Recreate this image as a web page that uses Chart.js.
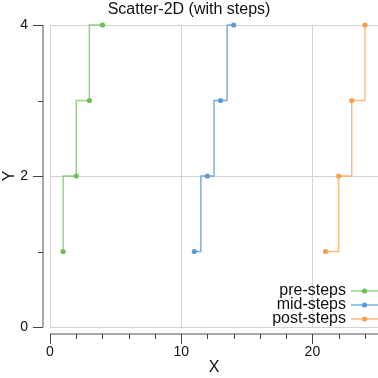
<!DOCTYPE html>
<html>
<head>
<meta charset="utf-8">
<script src="https://cdn.jsdelivr.net/npm/chart.js@4/dist/chart.umd.min.js"></script>
<style>
  html, body { margin: 0; padding: 0; background: #fff; }
  canvas { display: block; }
</style>
</head>
<body>
<canvas id="chart" width="378" height="378"></canvas>
<script>
// data
const seriesNames = ['pre-steps', 'mid-steps', 'post-steps'];
// chart.js names: 'after' = vertical first, 'before' = horizontal first
const stepModes = ['after', 'middle', 'before'];
const preX = [1, 2, 3, 4];
const preY = [1, 2, 3, 4];
const midX = [11, 12, 13, 14];
const midY = [1, 2, 3, 4];
const postX = [21, 22, 23, 24];
const postY = [1, 2, 3, 4];

const xTicks = [0, 2, 4, 6, 8, 10, 12, 14, 16, 18, 20, 22, 24];
const xLabels = [0, 10, 20];
const yTicks = [0, 1, 2, 3, 4];
const yLabels = [0, 2, 4];

const pointColors = ['#6abf58', '#5a9bd8', '#fd9e4c'];
const lineColors = ['rgba(106,191,88,0.7)', 'rgba(90,155,216,0.8)', 'rgba(253,158,76,0.7)'];

const FONT = '"Liberation Sans", Arial, sans-serif';
const GRID = '#d4d4d4';

function toPoints(xs, ys) {
  return xs.map((x, i) => ({ x: x, y: ys[i] }));
}

const seriesData = [toPoints(preX, preY), toPoints(midX, midY), toPoints(postX, postY)];

const datasets = seriesNames.map((name, i) => ({
  label: name,
  data: seriesData[i],
  showLine: true,
  stepped: stepModes[i],
  borderColor: lineColors[i],
  borderWidth: 1.5,
  backgroundColor: pointColors[i],
  pointBackgroundColor: pointColors[i],
  pointBorderWidth: 0,
  pointRadius: 2.6,
  clip: false
}));

// axis lines + ticks drawn a few px away from the plot box
const offsetAxes = {
  id: 'offsetAxes',
  afterDraw(chart) {
    const { ctx, chartArea: a, scales: { x, y } } = chart;
    const gap = 7;
    ctx.save();
    ctx.strokeStyle = '#8a8a8a';
    ctx.lineWidth = 1.5;
    ctx.beginPath();
    ctx.moveTo(a.left, a.bottom + gap);
    ctx.lineTo(a.right, a.bottom + gap);
    ctx.moveTo(a.left - gap, a.top);
    ctx.lineTo(a.left - gap, a.bottom);
    ctx.stroke();

    ctx.strokeStyle = '#444';
    ctx.lineWidth = 1;
    ctx.beginPath();
    x.ticks.forEach(t => {
      const px = Math.round(x.getPixelForValue(t.value)) + 0.5;
      const len = xLabels.includes(t.value) ? 10 : 5;
      ctx.moveTo(px, a.bottom + gap);
      ctx.lineTo(px, a.bottom + gap + len);
    });
    y.ticks.forEach(t => {
      const py = Math.round(y.getPixelForValue(t.value)) + 0.5;
      const len = yLabels.includes(t.value) ? 10 : 5;
      ctx.moveTo(a.left - gap, py);
      ctx.lineTo(a.left - gap - len, py);
    });
    ctx.stroke();
    ctx.restore();
  }
};

// legend in the lower right corner, label left of the symbol
const stepLegend = {
  id: 'stepLegend',
  afterDraw(chart) {
    const { ctx, chartArea: a } = chart;
    ctx.save();
    ctx.font = '16px ' + FONT;
    ctx.textAlign = 'right';
    ctx.textBaseline = 'middle';
    chart.data.datasets.forEach((ds, i) => {
      const rowY = a.bottom - 36 + i * 14;
      ctx.fillStyle = '#111';
      ctx.fillText(ds.label, a.right - 32, rowY);
      ctx.strokeStyle = ds.borderColor;
      ctx.lineWidth = 1.5;
      ctx.beginPath();
      ctx.moveTo(a.right - 27, rowY);
      ctx.lineTo(a.right, rowY);
      ctx.stroke();
      ctx.fillStyle = ds.pointBackgroundColor;
      ctx.beginPath();
      ctx.arc(a.right - 13.5, rowY, 2.6, 0, Math.PI * 2);
      ctx.fill();
    });
    ctx.restore();
  }
};

function noScalePadding(s) {
  s.paddingTop = 0;
  s.paddingBottom = 0;
  s.paddingLeft = 0;
  s.paddingRight = 0;
}

new Chart(document.getElementById('chart'), {
  type: 'scatter',
  data: { datasets: datasets },
  options: {
    responsive: false,
    animation: false,
    events: [],
    layout: { padding: 0, autoPadding: false },
    plugins: {
      legend: { display: false },
      tooltip: { enabled: false },
      title: {
        display: true,
        text: 'Scatter-2D (with steps)',
        color: '#111',
        font: { family: FONT, size: 16, weight: 'normal' },
        padding: { top: 0, bottom: 5.8 }
      }
    },
    scales: {
      x: {
        type: 'linear',
        min: 0,
        max: 25,
        afterBuildTicks: s => { s.ticks = xTicks.map(v => ({ value: v })); },
        afterFit: s => { s.height = 51; noScalePadding(s); },
        border: { display: false },
        grid: {
          drawTicks: false,
          color: c => (c.tick && xLabels.includes(c.tick.value)) ? GRID : 'rgba(0,0,0,0)',
          lineWidth: 1
        },
        ticks: {
          padding: 17,
          color: '#111',
          font: { family: FONT, size: 14 },
          maxRotation: 0,
          autoSkip: false,
          callback: v => xLabels.includes(v) ? String(v) : ''
        },
        title: {
          display: true,
          text: 'X',
          color: '#111',
          font: { family: FONT, size: 16 },
          padding: { top: 0, bottom: 1 }
        }
      },
      y: {
        type: 'linear',
        min: 0,
        max: 4,
        afterBuildTicks: s => { s.ticks = yTicks.map(v => ({ value: v })); },
        afterFit: s => { s.width = 50; noScalePadding(s); },
        border: { display: false },
        grid: {
          drawTicks: false,
          color: c => (c.tick && yLabels.includes(c.tick.value)) ? GRID : 'rgba(0,0,0,0)',
          lineWidth: 1
        },
        ticks: {
          padding: 22,
          color: '#111',
          font: { family: FONT, size: 14 },
          autoSkip: false,
          callback: v => yLabels.includes(v) ? String(v) : ''
        },
        title: {
          display: true,
          text: 'Y',
          color: '#111',
          font: { family: FONT, size: 16 },
          padding: { top: 0, bottom: 0 }
        }
      }
    }
  },
  plugins: [offsetAxes, stepLegend]
});
</script>
</body>
</html>
